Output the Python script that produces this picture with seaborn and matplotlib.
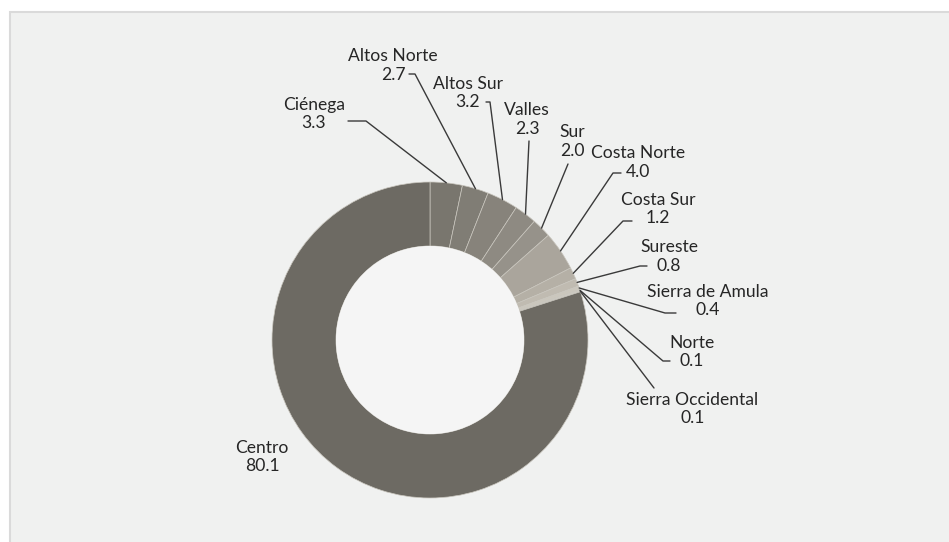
import numpy as np
import matplotlib.pyplot as plt
import seaborn as sns
from matplotlib.patches import Rectangle, Circle

regions = ["Ciénega", "Altos Norte", "Altos Sur", "Valles", "Sur", "Costa Norte",
           "Costa Sur", "Sureste", "Sierra de Amula", "Norte", "Sierra Occidental",
           "Centro"]
shares = [3.3, 2.7, 3.2, 2.3, 2.0, 4.0, 1.2, 0.8, 0.4, 0.1, 0.1, 80.1]

colors = ["#79766e", "#807d75", "#87837b", "#8e8a82", "#96928a", "#aaa59c",
          "#b5b0a6", "#c0bbb1", "#cbc7bd", "#d6d2c8", "#e1ded5", "#6d6a63"]

W, H = 949, 542


def px(x, y):
    # pixel position (top-left origin) -> axes units
    return x, H - y


# label block centre, leader start, elbow (None = straight line)
label_layout = [
    ((314, 114), (348, 121), (366, 121)),
    ((393, 65.5), (409, 74), (415, 74)),
    ((468, 93), (486, 102), (490, 102)),
    ((527, 119.5), (529, 141), None),
    ((572, 141.5), (568, 164), None),
    ((638, 162.5), (621, 173), (613, 173)),
    ((658, 209), (632, 221), (623, 221)),
    ((669, 256.5), (647, 266), (640, 266)),
    ((708, 301), (676, 313), (665, 313)),
    ((692, 352), (670, 361), (663, 361)),
    ((692.5, 409), (654, 388), None),
    ((262, 457), None, None),
]

sns.set_theme(style="white")
plt.rcParams["font.family"] = ["Lato", "DejaVu Sans"]

fig = plt.figure(figsize=(W / 100, H / 100), dpi=100)
fig.patch.set_facecolor("white")
ax = fig.add_axes([0, 0, 1, 1])
ax.set_xlim(0, W)
ax.set_ylim(0, H)
ax.axis("off")

ax.add_patch(Rectangle(px(10, 560), 960, 548, facecolor="#f0f1f0",
                       edgecolor="#dadada", linewidth=1.5, zorder=0))

center = px(430, 340)
radius = 158
wedges, _ = ax.pie(shares, colors=colors, startangle=90, counterclock=False,
                   center=center, radius=radius, frame=True,
                   wedgeprops=dict(width=radius * 0.405, edgecolor="#c9c6be",
                                   linewidth=0.5))
ax.add_patch(Circle(center, radius * 0.595, facecolor="#f5f5f5",
                    edgecolor="none", zorder=3))
ax.set_xlim(0, W)
ax.set_ylim(0, H)
ax.set_aspect("equal")
ax.axis("off")

for name, val, w, (txt, start, elbow) in zip(regions, shares, wedges, label_layout):
    ax.text(*px(*txt), f"{name}\n{val:.1f}", ha="center", va="center",
            multialignment="center", fontsize=12.6, color="#262626",
            linespacing=1.2, zorder=5)
    if start is None:
        continue
    mid = np.deg2rad((w.theta1 + w.theta2) / 2)
    anchor = (center[0] + radius * np.cos(mid), center[1] + radius * np.sin(mid))
    pts = [px(*start)]
    if elbow is not None:
        pts.append(px(*elbow))
    pts.append(anchor)
    xs, ys = zip(*pts)
    ax.plot(xs, ys, color="#3a3a3a", linewidth=1.0, zorder=4)

fig.savefig("out.png", dpi=100)
